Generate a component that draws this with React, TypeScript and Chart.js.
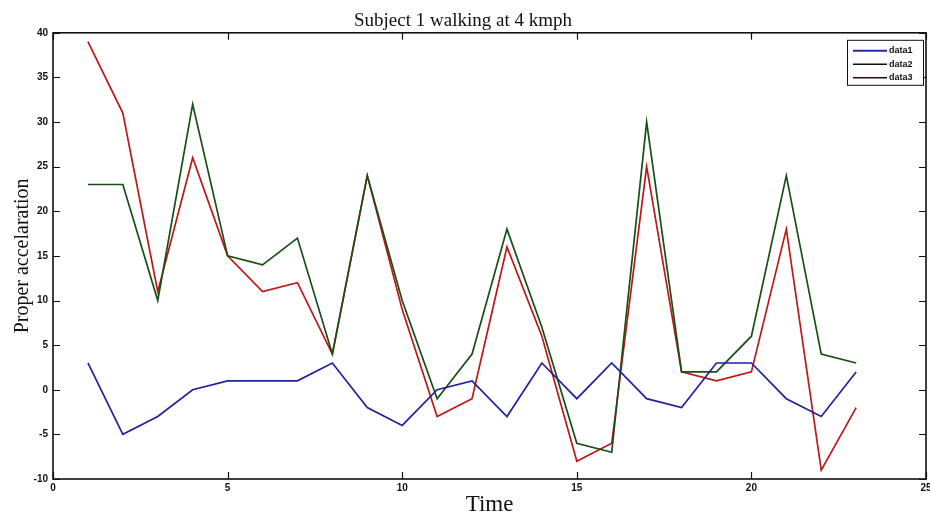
import React, { useEffect, useRef } from "react";
import { Chart, registerables } from "chart.js";

Chart.register(...registerables);

const chartTitle = "Subject 1 walking at 4 kmph";
const xAxisTitle = "Time";
const yAxisTitle = "Proper accelaration";

const timeSteps = [1, 2, 3, 4, 5, 6, 7, 8, 9, 10, 11, 12, 13, 14, 15, 16, 17, 18, 19, 20, 21, 22, 23];
const data1 = [3, -5, -3, 0, 1, 1, 1, 3, -2, -4, 0, 1, -3, 3, -1, 3, -1, -2, 3, 3, -1, -3, 2];
const data2 = [23, 23, 10, 32, 15, 14, 17, 4, 24, 10, -1, 4, 18, 7, -6, -7, 30, 2, 2, 6, 24, 4, 3];
const data3 = [39, 31, 11, 26, 15, 11, 12, 4, 24, 9, -3, -1, 16, 6, -8, -6, 25, 2, 1, 2, 18, -9, -2];

const seriesLabels = ["data1", "data2", "data3"];
const seriesColors = ["#22229c", "#184f18", "#bc1818"];
const legendColors = ["#2a2aa8", "#111111", "#2a0a0a"];

const xTicks = [0, 5, 10, 15, 20, 25];
const yTicks = [-10, -5, 0, 5, 10, 15, 20, 25, 30, 35, 40];

const tickFont = { family: "'Liberation Sans Narrow', 'Liberation Sans', Arial, sans-serif", size: 10, weight: "bold" as const };
const serif = "'Liberation Serif', 'Times New Roman', serif";

const framePlugin = {
  id: "matlabFrame",
  afterDatasetsDraw(chart: any) {
    const { ctx, chartArea: a, scales } = chart;
    const xs = scales.x;
    const ys = scales.y;
    ctx.save();
    ctx.strokeStyle = "#111";
    ctx.lineWidth = 1.6;
    ctx.strokeRect(a.left, a.top, a.right - a.left, a.bottom - a.top);
    const L = 7;
    ctx.lineWidth = 1.2;
    ctx.beginPath();
    xs.ticks.forEach((t: any) => {
      const px = Math.round(xs.getPixelForValue(t.value)) + 0.5;
      ctx.moveTo(px, a.bottom);
      ctx.lineTo(px, a.bottom - L);
      ctx.moveTo(px, a.top);
      ctx.lineTo(px, a.top + L);
    });
    ys.ticks.forEach((t: any) => {
      const py = Math.round(ys.getPixelForValue(t.value)) + 0.5;
      ctx.moveTo(a.left, py);
      ctx.lineTo(a.left + L, py);
      ctx.moveTo(a.right, py);
      ctx.lineTo(a.right - L, py);
    });
    ctx.stroke();

    const bw = 76;
    const bh = 45;
    const bx = a.right - bw - 3;
    const by = a.top + 7;
    ctx.fillStyle = "#fff";
    ctx.fillRect(bx, by, bw, bh);
    ctx.strokeStyle = "#111";
    ctx.lineWidth = 1;
    ctx.strokeRect(bx + 0.5, by + 0.5, bw, bh);
    ctx.font = "bold 9px 'Liberation Sans Narrow', 'Liberation Sans', Arial, sans-serif";
    ctx.textBaseline = "middle";
    ctx.textAlign = "left";
    chart.data.datasets.forEach((ds: any, i: number) => {
      const ry = by + 11 + i * 13.5;
      ctx.strokeStyle = legendColors[i];
      ctx.lineWidth = i === 0 ? 2 : 1.4;
      ctx.beginPath();
      ctx.moveTo(bx + 6, ry);
      ctx.lineTo(bx + 40, ry);
      ctx.stroke();
      ctx.fillStyle = "#111";
      ctx.fillText(ds.label, bx + 42, ry);
    });
    ctx.restore();
  },
};

export default function App() {
  const ref = useRef<HTMLCanvasElement | null>(null);

  useEffect(() => {
    if (!ref.current) return;
    const series = [data1, data2, data3];
    const chart = new Chart(ref.current, {
      type: "line",
      data: {
        datasets: series.map((vals, i) => ({
          label: seriesLabels[i],
          data: vals.map((v, k) => ({ x: timeSteps[k], y: v })),
          borderColor: seriesColors[i],
          backgroundColor: seriesColors[i],
          borderWidth: 1.7,
          pointRadius: 0,
          tension: 0,
          fill: false,
        })),
      },
      options: {
        responsive: false,
        animation: false,
        devicePixelRatio: 1,
        layout: { padding: { left: 0, right: 4, top: 0, bottom: 0 } },
        plugins: {
          legend: { display: false },
          tooltip: { enabled: false },
          title: {
            display: true,
            text: chartTitle,
            color: "#111",
            font: { family: serif, size: 19, weight: "normal" },
            padding: { top: 10, bottom: 0 },
          },
        },
        scales: {
          x: {
            type: "linear",
            min: 0,
            max: 25,
            grid: { display: false, drawTicks: false },
            border: { display: false },
            afterBuildTicks: (s: any) => {
              s.ticks = xTicks.map((v) => ({ value: v }));
            },
            afterFit: (s: any) => {
              s.height = 40;
              s.paddingLeft = 0;
              s.paddingRight = 0;
            },
            ticks: { color: "#111", font: tickFont, padding: 3, maxRotation: 0, autoSkip: false },
            title: {
              display: true,
              text: xAxisTitle,
              color: "#111",
              font: { family: serif, size: 23, weight: "normal" },
              padding: { top: 0, bottom: 0 },
            },
          },
          y: {
            type: "linear",
            min: -10,
            max: 40,
            grid: { display: false, drawTicks: false },
            border: { display: false },
            afterBuildTicks: (s: any) => {
              s.ticks = yTicks.map((v) => ({ value: v }));
            },
            afterFit: (s: any) => {
              s.width = 53;
              s.paddingTop = 0;
              s.paddingBottom = 0;
            },
            ticks: { color: "#111", font: tickFont, padding: 5, autoSkip: false },
            title: {
              display: true,
              text: yAxisTitle,
              color: "#111",
              font: { family: serif, size: 20, weight: "normal" },
              padding: { top: 11, bottom: 0 },
            },
          },
        },
      },
      plugins: [framePlugin],
    });
    return () => chart.destroy();
  }, []);

  return (
    <div style={{ position: "absolute", left: 0, top: 0, width: 930, height: 519, background: "#fff" }}>
      <canvas ref={ref} width={930} height={519} style={{ display: "block", width: 930, height: 519 }} />
    </div>
  );
}
